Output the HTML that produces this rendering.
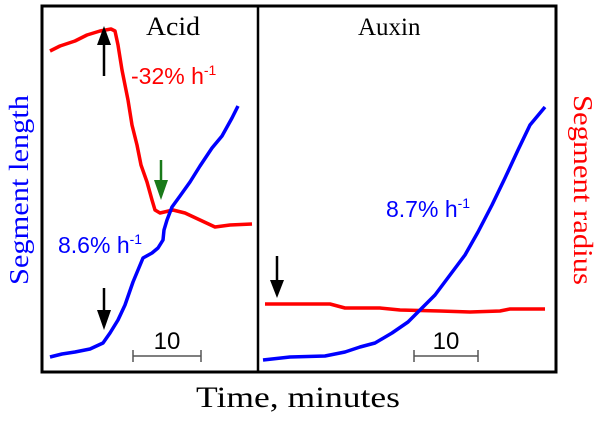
<!DOCTYPE html><html><head><style>body{margin:0;background:#fff}</style></head><body>
<svg width="600" height="417" xmlns="http://www.w3.org/2000/svg">
<rect x="42" y="6" width="514" height="366" fill="none" stroke="#000" stroke-width="3"/>
<line x1="258" y1="6" x2="258" y2="372" stroke="#000" stroke-width="2.5"/>
<text x="146" y="35" font-family="Liberation Serif,serif" font-size="26" textLength="54" lengthAdjust="spacingAndGlyphs">Acid</text>
<text x="358" y="35" font-family="Liberation Serif,serif" font-size="25">Auxin</text>
<g fill="none" stroke-width="3.5" stroke-linejoin="round">
<polyline stroke="#f00" points="50,51 60,46 75,41 87,35 100,31 111,29 115,31 118,45 122,70 128,100 132,125 137,145 141,165 147,182 152,200 155,210 160,213 173,210 185,213 200,220 215,227 230,225 252,224"/>
<polyline stroke="#00f" points="50,357 62,354 75,352 90,349 103,343 110,333 118,320 125,305 133,282 138,270 143,258 152,253 158,248 163,240 164,230 167,220 172,207 180,196 190,182 200,166 212,148 222,136 232,118 238,106"/>
<polyline stroke="#f00" points="265,304 300,304 330,304 345,308 380,308 400,310 440,311 470,312 500,311 510,309 545,309"/>
<polyline stroke="#00f" points="263,360 290,357 325,356 345,352 360,347 375,343 392,333 408,322 420,310 435,295 450,275 465,255 478,232 492,205 505,178 518,150 530,125 545,107"/>
</g>
<line x1="104" y1="76" x2="104" y2="40" stroke="#000" stroke-width="2.5"/><polygon points="97,45 104,26 111,45" fill="#000"/>
<line x1="161" y1="160" x2="161" y2="185" stroke="#1a7a1a" stroke-width="2.5"/><polygon points="154,180 161,200 168,180" fill="#1a7a1a"/>
<line x1="104" y1="288" x2="104" y2="315" stroke="#000" stroke-width="2.5"/><polygon points="97,310 104,330 111,310" fill="#000"/>
<line x1="277" y1="256" x2="277" y2="285" stroke="#000" stroke-width="2.5"/><polygon points="270,280 277,298 284,280" fill="#000"/>
<text x="131" y="84" font-family="Liberation Sans,sans-serif" font-size="23" fill="#f00">-32% h<tspan font-size="14" dy="-9">-1</tspan></text>
<text x="58" y="253" font-family="Liberation Sans,sans-serif" font-size="23" fill="#00f">8.6% h<tspan font-size="14" dy="-9">-1</tspan></text>
<text x="386" y="217" font-family="Liberation Sans,sans-serif" font-size="23" fill="#00f">8.7% h<tspan font-size="14" dy="-9">-1</tspan></text>
<g stroke="#555" stroke-width="1.5"><line x1="133" y1="356" x2="201" y2="356"/><line x1="133" y1="350" x2="133" y2="362"/><line x1="201" y1="350" x2="201" y2="362"/>
<line x1="414" y1="356" x2="478" y2="356"/><line x1="414" y1="350" x2="414" y2="362"/><line x1="478" y1="350" x2="478" y2="362"/></g>
<text x="167" y="349" font-family="Liberation Sans,sans-serif" font-size="24" text-anchor="middle">10</text>
<text x="446" y="349" font-family="Liberation Sans,sans-serif" font-size="24" text-anchor="middle">10</text>
<text x="196" y="407" font-family="Liberation Serif,serif" font-size="30" textLength="204" lengthAdjust="spacingAndGlyphs">Time, minutes</text>
<text transform="translate(28,190) rotate(-90)" font-family="Liberation Serif,serif" font-size="27" fill="#00f" text-anchor="middle" textLength="190" lengthAdjust="spacingAndGlyphs">Segment length</text>
<text transform="translate(574,190) rotate(90)" font-family="Liberation Serif,serif" font-size="27" fill="#f00" text-anchor="middle" textLength="190" lengthAdjust="spacingAndGlyphs">Segment radius</text>
</svg></body></html>
